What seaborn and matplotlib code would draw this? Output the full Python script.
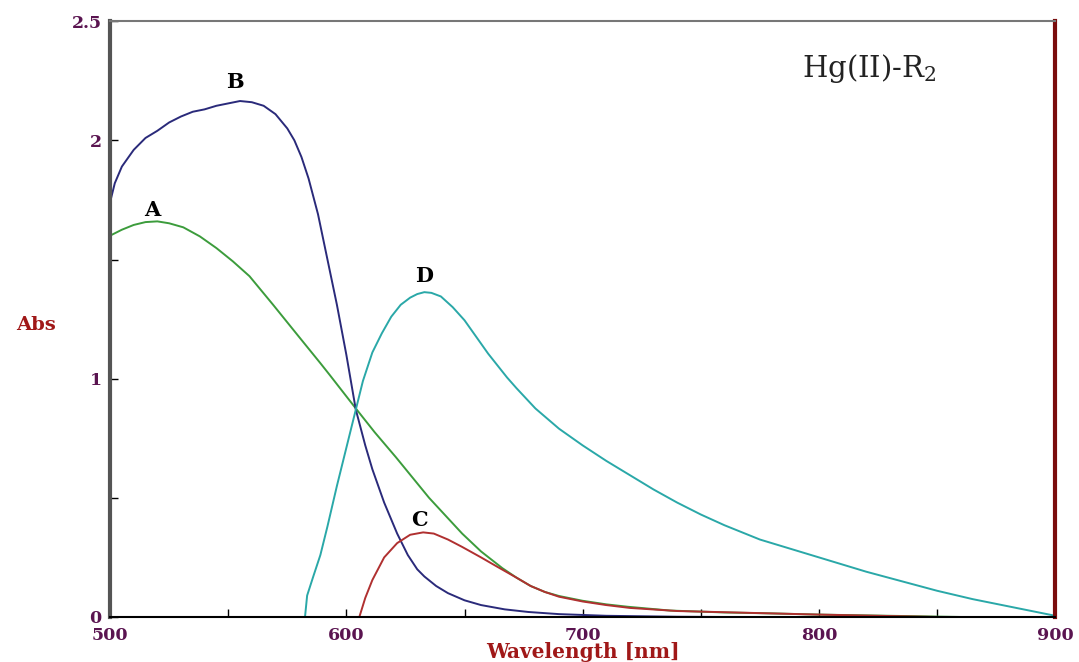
import numpy as np
import pandas as pd
import matplotlib
matplotlib.use("Agg")
import matplotlib.pyplot as plt
import seaborn as sns

# Widma Hg(II)-R2, wartosci
wl_A = [500, 505, 510, 515, 520, 525, 531, 538, 545, 552, 559, 569, 580, 589, 593, 604, 612,
        621, 628, 635, 642, 649, 657, 666, 672, 678, 684, 690, 700, 710, 719, 737, 760, 780,
        800, 830, 860]
abs_A = [1.60, 1.625, 1.645, 1.657, 1.66, 1.652, 1.635, 1.597, 1.548, 1.492, 1.43, 1.31, 1.175,
         1.065, 1.015, 0.875, 0.775, 0.67, 0.585, 0.50, 0.425, 0.35, 0.275, 0.205, 0.165, 0.13,
         0.105, 0.088, 0.068, 0.053, 0.043, 0.027, 0.019, 0.015, 0.01, 0.005, 0.0]

wl_B = [500, 502, 505, 510, 515, 520, 525, 530, 535, 540, 545, 550, 555, 560, 565, 570, 575,
        578, 581, 584, 588, 592, 596, 600, 604, 608, 611, 616, 621.5, 626, 630, 633, 638, 643,
        650, 657, 667, 677, 690, 710, 740, 760]
abs_B = [1.74, 1.82, 1.89, 1.96, 2.01, 2.04, 2.075, 2.10, 2.12, 2.13, 2.145, 2.155, 2.165,
         2.16, 2.145, 2.11, 2.05, 2.0, 1.93, 1.84, 1.69, 1.50, 1.31, 1.10, 0.87, 0.72, 0.62,
         0.48, 0.35, 0.26, 0.20, 0.17, 0.13, 0.10, 0.07, 0.05, 0.032, 0.021, 0.012, 0.005,
         0.001, 0.0]

wl_C = [605.5, 608, 611, 616, 621.5, 627, 632.5, 637, 643, 649, 657, 664, 672, 678, 684, 690,
        700, 710, 720, 740, 760, 800, 830, 850]
abs_C = [0.0, 0.08, 0.155, 0.25, 0.31, 0.345, 0.355, 0.35, 0.325, 0.294, 0.25, 0.21, 0.165,
         0.13, 0.105, 0.085, 0.065, 0.05, 0.038, 0.025, 0.02, 0.01, 0.004, 0.0]

wl_D = [582.5, 583.4, 586, 589, 592, 596, 600, 604, 607, 611, 615, 619, 623, 627, 630, 633,
        636, 640, 645, 650, 655, 660, 664, 668, 672, 680, 690, 700, 710, 720, 730, 740, 750,
        760, 775, 790, 805, 820, 835, 850, 865, 880, 900]
abs_D = [0.0, 0.09, 0.17, 0.26, 0.38, 0.55, 0.71, 0.87, 0.99, 1.11, 1.19, 1.26, 1.31, 1.34,
         1.355, 1.363, 1.36, 1.345, 1.30, 1.245, 1.175, 1.105, 1.055, 1.005, 0.96, 0.875, 0.79,
         0.72, 0.655, 0.595, 0.535, 0.48, 0.43, 0.385, 0.325, 0.28, 0.235, 0.19, 0.15, 0.11,
         0.075, 0.045, 0.005]

curves = [("A", wl_A, abs_A, "#3c9c3c"),
          ("B", wl_B, abs_B, "#2a2a7a"),
          ("C", wl_C, abs_C, "#b03030"),
          ("D", wl_D, abs_D, "#2aa8a8")]

# pozycje etykiet krzywych (srodek)
label_pos = {"A": (518, 1.707), "B": (553, 2.244), "C": (631, 0.407), "D": (633, 1.43)}

sns.set_style("white")
plt.rcParams['font.family'] = ['DejaVu Serif']
plt.rcParams['mathtext.fontset'] = 'dejavuserif'

fig = plt.figure(figsize=(10.79, 6.62), dpi=100)
ax = fig.add_axes([0.102, 0.068, 0.876, 0.9])

for name, wl, ab, col in curves:
    df = pd.DataFrame({'Wavelength': wl, 'Abs': ab})
    sns.lineplot(data=df, x='Wavelength', y='Abs', color=col, linewidth=1.4, ax=ax)
    tx, ty = label_pos[name]
    ax.text(tx, ty, name, fontsize=15, fontweight='bold', ha='center', va='center', color='black')

ax.text(793, 2.30, "Hg(II)-R$_2$", fontsize=21, ha='left', va='center', color='#222222')

ax.set_xlim(500, 900)
ax.set_ylim(0, 2.5)
ax.set_xticks([500, 600, 700, 800, 900])
ax.set_xticks([550, 650, 750, 850], minor=True)
ax.set_yticks([0, 1, 2, 2.5])
ax.set_yticklabels(["0", "1", "2", "2.5"])
ax.set_yticks([0.5, 1.5], minor=True)

tick_col = '#5a1450'
ax.tick_params(axis='both', which='both', direction='in', labelsize=12.5, labelcolor=tick_col,
               length=6, width=1, color='black', left=True, bottom=True)
for lab in ax.get_xticklabels() + ax.get_yticklabels():
    lab.set_fontweight('bold')
ax.tick_params(axis='x', pad=7)
ax.tick_params(axis='y', pad=6)

ax.set_xlabel("Wavelength [nm]", fontsize=14.5, fontweight='bold', color='#a01818', labelpad=-1)
ax.set_ylabel("Abs", fontsize=14, fontweight='bold', color='#a01818', rotation=0)
ax.yaxis.label.set_va('center')
ax.yaxis.set_label_coords(-0.078, 0.49)

ax.spines['left'].set_color('#555555')
ax.spines['left'].set_linewidth(3)
ax.spines['top'].set_color('#777777')
ax.spines['top'].set_linewidth(1.5)
ax.spines['right'].set_color('#7a0c0c')
ax.spines['right'].set_linewidth(3)
ax.spines['bottom'].set_color('black')
ax.spines['bottom'].set_linewidth(1.5)

plt.savefig('out.png', dpi=100)
